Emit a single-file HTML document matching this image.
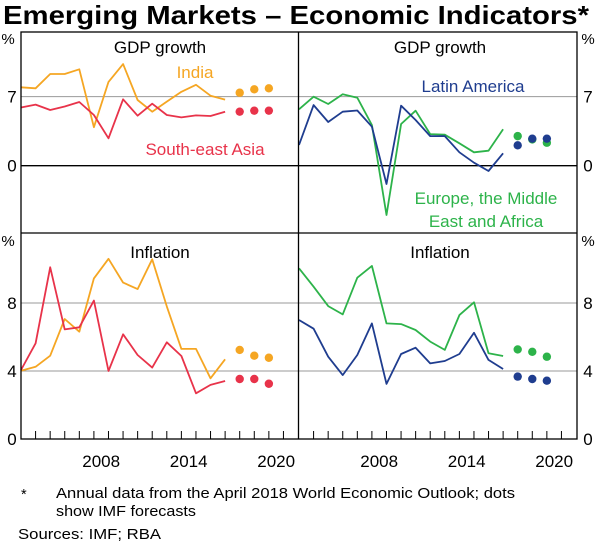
<!DOCTYPE html>
<html><head><meta charset="utf-8"><style>
body{margin:0;background:#fff;}
svg{display:block;font-family:"Liberation Sans",Arial,sans-serif;}
</style></head><body>
<svg id="c" width="600" height="545" viewBox="0 0 600 545">
<text x="3" y="24" font-size="26" font-weight="bold" textLength="586" lengthAdjust="spacingAndGlyphs">Emerging Markets – Economic Indicators*</text>
<g id="grid"></g>
<g id="series"></g>
<g id="frame" fill="none" stroke="#000" stroke-width="1.3">
<rect x="21" y="32" width="556" height="407"/>
<line x1="298.5" y1="32" x2="298.5" y2="439"/>
<line x1="21" y1="233" x2="577" y2="233"/>
</g>
<g id="labels" font-size="17"></g>
<text x="160" y="53" text-anchor="middle" font-size="17">GDP growth</text>
<text x="440" y="53" text-anchor="middle" font-size="17">GDP growth</text>
<text x="160" y="258" text-anchor="middle" font-size="17">Inflation</text>
<text x="440" y="258" text-anchor="middle" font-size="17">Inflation</text>
<text x="195" y="78" text-anchor="middle" font-size="17" fill="#f5a623">India</text>
<text x="205" y="155" text-anchor="middle" font-size="17" fill="#e8334a">South-east Asia</text>
<text x="473" y="92" text-anchor="middle" font-size="17" fill="#1f3d8f">Latin America</text>
<text x="486" y="204" text-anchor="middle" font-size="17" fill="#2db34a">Europe, the Middle</text>
<text x="486" y="227" text-anchor="middle" font-size="17" fill="#2db34a">East and Africa</text>
<text x="21" y="499" font-size="14.5">*</text>
<text x="56" y="498" font-size="14.5" textLength="459" lengthAdjust="spacingAndGlyphs">Annual data from the April 2018 World Economic Outlook; dots</text>
<text x="56" y="516" font-size="14.5" textLength="140" lengthAdjust="spacingAndGlyphs">show IMF forecasts</text>
<text x="18" y="539" font-size="14.5" textLength="143" lengthAdjust="spacingAndGlyphs">Sources: IMF; RBA</text>
</svg>
<script>
const years=[2003,2004,2005,2006,2007,2008,2009,2010,2011,2012,2013,2014,2015,2016,2017];
const forecastYears=[2018,2019,2020];
const yearLabels=[2008,2014,2020];
const gdpTicks=[0,7];
const infTicks=[0,4,8];
const gdpIndia=[7.95,7.85,9.3,9.3,9.78,3.9,8.5,10.3,6.66,5.48,6.5,7.5,8.2,7.1,6.7];
const gdpIndiaF=[7.4,7.75,7.85];
const gdpSEA=[5.9,6.2,5.65,6.0,6.46,5.14,2.78,6.73,5.07,6.29,5.14,4.9,5.1,5.04,5.48];
const gdpSEAF=[5.48,5.58,5.58];
const gdpLatAm=[2.1,6.15,4.43,5.48,5.6,3.96,-1.86,6.09,4.63,3.0,3.0,1.36,0.3,-0.54,1.26];
const gdpLatAmF=[2.07,2.74,2.74];
const gdpEMEA=[5.72,7.0,6.26,7.24,6.9,4.13,-5.0,4.23,5.58,3.2,3.14,2.27,1.36,1.52,3.69];
const gdpEMEAF=[3.0,2.67,2.33];
const infIndia=[4.02,4.25,4.9,7.06,6.31,9.45,10.6,9.2,8.82,10.57,7.8,5.3,5.3,3.57,4.69];
const infIndiaF=[5.24,4.9,4.78];
const infSEA=[4.06,5.63,10.1,6.45,6.57,8.14,4.0,6.16,4.94,4.2,5.69,4.88,2.69,3.18,3.41];
const infSEAF=[3.53,3.53,3.25];
const infEMEA=[10.04,8.96,7.82,7.33,9.49,10.18,6.8,6.76,6.41,5.73,5.24,7.29,8.04,5.04,4.88];
const infEMEAF=[5.27,5.13,4.84];
const infLatAm=[7.0,6.49,4.84,3.76,4.94,6.8,3.24,5.0,5.37,4.45,4.59,5.0,6.25,4.65,4.12];
const infLatAmF=[3.67,3.53,3.43];

const NS="http://www.w3.org/2000/svg";
const PX=14.58;
function xL(y){return 21+(y-2003)*PX;}
function xR(y){return 299+(y-2003)*PX;}
function yG(v){return 165.7-v*9.86;}
function yI(v){return 439-v*17;}
function mk(tag,attrs,parent){const e=document.createElementNS(NS,tag);for(const k in attrs)e.setAttribute(k,attrs[k]);parent.appendChild(e);return e;}
const grid=document.getElementById('grid'),ser=document.getElementById('series'),lab=document.getElementById('labels');

gdpTicks.forEach(t=>{const l=mk('line',{x1:21,x2:577,y1:yG(t),y2:yG(t),stroke:t===0?'#000':'#999','stroke-width':t===0?1.3:1},grid);


const a=mk('text',{x:12,y:yG(t)+6,'text-anchor':'middle','font-size':17},lab);a.textContent=t;


const b=mk('text',{x:588,y:yG(t)+6,'text-anchor':'middle','font-size':17},lab);b.textContent=t;

});
infTicks.forEach(t=>{if(t>0){const l=mk('line',{x1:21,x2:577,y1:yI(t),y2:yI(t),stroke:'#999','stroke-width':1},grid);

}
const a=mk('text',{x:12,y:yI(t)+6,'text-anchor':'middle','font-size':17},lab);a.textContent=t;


const b=mk('text',{x:588,y:yI(t)+6,'text-anchor':'middle','font-size':17},lab);b.textContent=t;

});
[[8,44],[588,44],[8,246],[588,246]].forEach((p,i)=>{const t=mk('text',{x:p[0],y:p[1],'text-anchor':'middle','font-size':15},lab);t.textContent='%';

});

for(let y=2004;y<=2021;y++){[xL,xR].forEach(f=>{const x=f(y);if(x<297||(x>300&&x<576)){const l=mk('line',{x1:x,x2:x,y1:431,y2:439,stroke:'#000','stroke-width':1},grid);

}});}
yearLabels.forEach(y=>{[xL,xR].forEach(f=>{const t=mk('text',{x:f(y)+PX/2,y:467,'text-anchor':'middle','font-size':17},lab);t.textContent=y;

});});

function draw(vals,fvals,fx,fy,color,name){
const pts=vals.map((v,i)=>fx(years[i]).toFixed(1)+','+fy(v).toFixed(1)).join(' ');
const p=mk('polyline',{points:pts,fill:'none',stroke:color,'stroke-width':1.8,'stroke-linejoin':'round'},ser);


fvals.forEach((v,i)=>{const c=mk('circle',{cx:fx(forecastYears[i]),cy:fy(v),r:4.2,fill:color},ser);

});}
const OR='#f5a623',RD='#e8334a',BL='#1f3d8f',GR='#2db34a';
draw(gdpIndia,gdpIndiaF,xL,yG,OR,'gdp-india');
draw(gdpSEA,gdpSEAF,xL,yG,RD,'gdp-south-east-asia');
draw(gdpEMEA,gdpEMEAF,xR,yG,GR,'gdp-emea');
draw(gdpLatAm,gdpLatAmF,xR,yG,BL,'gdp-latin-america');
draw(infIndia,infIndiaF,xL,yI,OR,'inflation-india');
draw(infSEA,infSEAF,xL,yI,RD,'inflation-south-east-asia');
draw(infEMEA,infEMEAF,xR,yI,GR,'inflation-emea');
draw(infLatAm,infLatAmF,xR,yI,BL,'inflation-latin-america');
</script>
</body></html>
